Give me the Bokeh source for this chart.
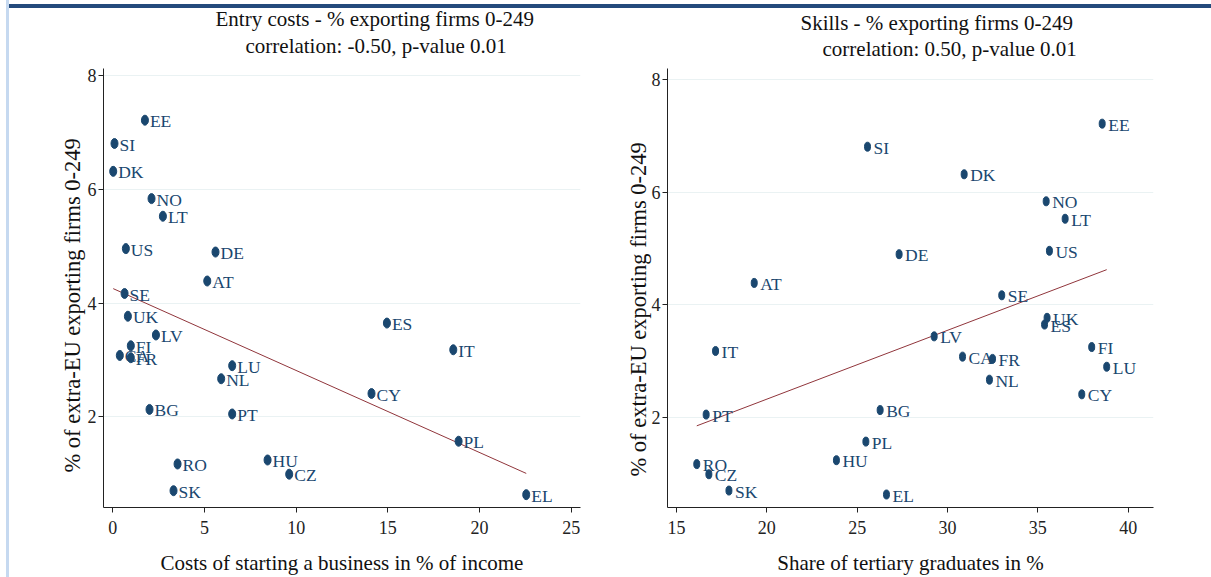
import numpy as np
from bokeh.plotting import figure
from bokeh.models import ColumnDataSource, Range1d, FixedTicker, Title, Div
from bokeh.layouts import row, column
from bokeh.embed import file_html
from bokeh.resources import INLINE
from bokeh.core.properties import value

# Country codes and indicators
countries = ["EE", "SI", "DK", "NO", "LT", "US", "DE", "AT", "SE", "UK", "ES", "LV", "IT", "FI",
             "CA", "FR", "LU", "NL", "CY", "BG", "PT", "PL", "HU", "RO", "CZ", "SK", "EL"]
# % of extra-EU exporting firms 0-249
export_share = [7.22, 6.81, 6.32, 5.84, 5.53, 4.96, 4.90, 4.39, 4.17, 3.77, 3.65, 3.44, 3.18, 3.25,
                3.08, 3.04, 2.90, 2.67, 2.41, 2.13, 2.05, 1.57, 1.24, 1.17, 0.99, 0.70, 0.63]
# Costs of starting a business in % of income
entry_cost = [1.75, 0.09, 0.02, 2.11, 2.73, 0.71, 5.60, 5.15, 0.64, 0.82, 14.95, 2.35, 18.57, 0.98,
              0.38, 0.98, 6.51, 5.91, 14.11, 2.00, 6.51, 18.86, 8.44, 3.53, 9.62, 3.31, 22.55]
# Share of tertiary graduates in %
tertiary_share = [38.56, 25.57, 30.92, 35.46, 36.51, 35.64, 27.32, 19.30, 33.00, 35.51, 35.37, 29.26,
                  17.16, 37.98, 30.83, 32.49, 38.81, 32.32, 37.43, 26.27, 16.64, 25.48, 23.85, 16.12,
                  16.79, 17.90, 26.62]

y_ticks = [2, 4, 6, 8]
x_ticks_cost = [0, 5, 10, 15, 20, 25]
x_ticks_skills = [15, 20, 25, 30, 35, 40]
y_title = "% of extra-EU exporting firms 0-249"

NAVY = "#1a476f"
MAROON = "#90353b"
SERIF = "Liberation Serif"
TOP = 8       # height of the page header rule strip
STRIP = 9     # width of the side strip
H = 577 - TOP


def heading(text, offset, standoff, size="21px"):
    return Title(text=text, align="left", offset=offset, standoff=standoff, text_font=SERIF,
                 text_font_size=size, text_font_style="normal", text_color="#111111")


def panel(xvals, xlabel, title1, title2, offs, ytitle, xstand, xr, yr, xticks, borders, width,
          mw, mh, lx):
    bl, br, bt, bb = borders
    p = figure(width=width, height=H, x_range=Range1d(*xr), y_range=Range1d(*yr),
               output_backend="svg", toolbar_location=None, title=None,
               min_border_left=bl, min_border_right=br, min_border_top=bt, min_border_bottom=bb)
    p.outline_line_color = None
    p.background_fill_color = "white"
    p.border_fill_color = "white"

    p.xaxis.ticker = FixedTicker(ticks=xticks)
    p.yaxis.ticker = FixedTicker(ticks=y_ticks)
    p.xgrid.visible = False
    p.ygrid.grid_line_color = "#eaf2f3"
    p.ygrid.grid_line_width = 1

    for ax in (p.xaxis[0], p.yaxis[0]):
        ax.axis_line_color = "#222222"
        ax.major_tick_line_color = "#222222"
        ax.major_tick_out = 5
        ax.major_tick_in = 0
        ax.minor_tick_line_color = None
        ax.major_label_text_font = SERIF
        ax.major_label_text_font_size = "18px"
        ax.major_label_text_color = "#222222"
        ax.axis_label_text_font = SERIF
        ax.axis_label_text_font_size = "21px"
        ax.axis_label_text_font_style = "normal"
        ax.axis_label_text_color = "#111111"
    p.xaxis.major_label_standoff = xstand[0]
    p.xaxis.axis_label_standoff = xstand[1]
    p.yaxis.major_label_standoff = 2
    p.xaxis.axis_label = xlabel
    # vertical axis caption, set along the axis from its lower end
    yoff, ystand = ytitle
    p.add_layout(heading(y_title, yoff, ystand, "22.5px"), "left")

    # least-squares fit over the observed range
    xa = np.asarray(xvals)
    ya = np.asarray(export_share)
    b, a = np.polyfit(xa, ya, 1)
    xs = [xa.min(), xa.max()]
    p.line(xs, [a + b * v for v in xs], line_color=MAROON, line_width=1)

    src = ColumnDataSource(dict(x=list(xvals), y=export_share, name=countries))
    p.ellipse(x="x", y="y", width=mw, height=mh, width_units="screen", height_units="screen",
              fill_color=NAVY, line_color=NAVY, source=src)
    p.text(x="x", y="y", text="name", source=src, x_offset=lx, y_offset=1,
           text_baseline="middle", text_align="left", text_font=value(SERIF),
           text_font_size="17.5px", text_color=NAVY)

    # two-line heading, the line nearest the frame goes in first
    o1, o2, s1, s2 = offs
    p.add_layout(heading(title2, o2, s2), "above")
    p.add_layout(heading(title1, o1, s1), "above")
    return p


left = panel(entry_cost, "Costs of starting a business in % of income",
             "Entry costs - % exporting firms 0-249", "correlation: -0.50, p-value 0.01",
             (112, 142, -19, 21), (35, 0), (8, 14), (-0.51, 25.51), (0.404, 8.13), x_ticks_cost,
             (103 - STRIP, 25, 60, 69), 605 - STRIP, 7, 10, 5)
right = panel(tertiary_share, "Share of tertiary graduates in %",
              "Skills - % exporting firms 0-249", "correlation: 0.50, p-value 0.01",
              (133, 155, -15, 15), (31, -4), (8, 14), (14.5, 41.4), (0.399, 8.2), x_ticks_skills,
              (62, 58, 60, 69), 606, 6, 9, 6)

# page header rule and side strip
header = Div(width=1211, height=TOP, margin=0,
             styles={"background": "linear-gradient(to right, #ffffff 0px, #ffffff 6px, #c6d9f0 6px, "
                                   "#c6d9f0 9px, transparent 9px), "
                                   "linear-gradient(to bottom, #ffffff 0px, #ffffff 4px, #244a7c 4px, "
                                   "#244a7c 8px)"})
strip = Div(width=STRIP, height=H, margin=0,
            styles={"background": "linear-gradient(to right, #ffffff 0px, #ffffff 6px, #c6d9f0 6px, "
                                  "#c6d9f0 9px)"})

layout = column(header, row(strip, left, right, spacing=0), spacing=0)
open("out.html", "w").write(file_html(layout, INLINE))
